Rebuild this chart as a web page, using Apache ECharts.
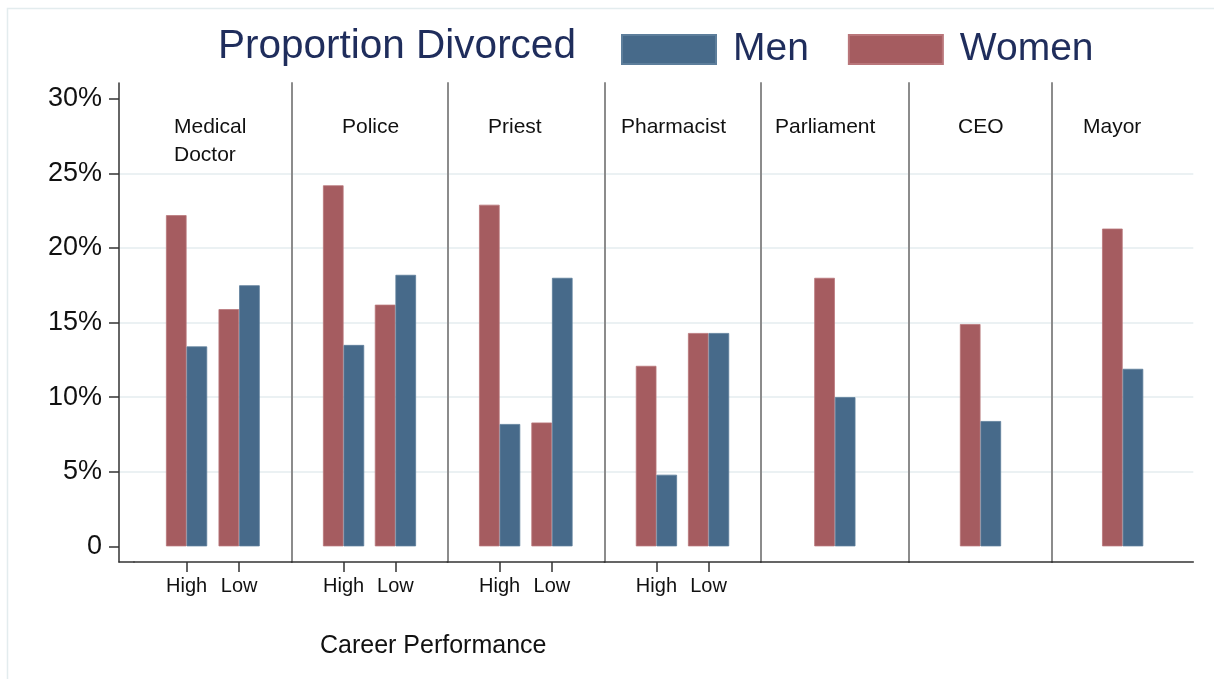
<!DOCTYPE html>
<html>
<head>
<meta charset="utf-8">
<title>Proportion Divorced</title>
<script src="https://cdn.jsdelivr.net/npm/echarts@6/dist/echarts.min.js"></script>
<style>
html, body { margin: 0; padding: 0; background: #fff; }
#chart { width: 1214px; height: 679px; }
</style>
</head>
<body>
<div id="chart"></div>
<script>
const occupations = ['Medical\nDoctor', 'Police', 'Priest', 'Pharmacist', 'Parliament', 'CEO', 'Mayor'];
const performance = ['High', 'Low'];
const womenHigh = [22.2, 24.2, 22.9, 12.1, 18.0, 14.9, 21.3];
const menHigh = [13.4, 13.5, 8.2, 4.8, 10.0, 8.4, 11.9];
// only the first four occupations have a "Low" group
const womenLow = [15.9, 16.2, 8.3, 14.3];
const menLow = [17.5, 18.2, 18.0, 14.3];
const yTicks = [0, 5, 10, 15, 20, 25, 30];

// panel edges (px), first panel starts a bit right of the y axis
const panelEdges = [134, 291.7, 447.3, 604.3, 760.7, 909, 1052, 1193.3];
const labelX = [174, 342, 488, 621, 775, 958, 1083];

const womenColor = '#a55c60';
const menColor = '#476a8a';
const navy = '#1f2d5c';
const font = 'Liberation Sans';
const gridTop = 83, gridHeight = 479;
const yMin = -1.05, yMax = 31.06;

const splitColors = yTicks.map((t, i) =>
  i === 0 || i === yTicks.length - 1 ? 'rgba(0,0,0,0)' : '#e4edef');

let grids = [{ left: 119, width: 15, top: gridTop, height: gridHeight }];
let xAxes = [{
  type: 'value', gridIndex: 0, min: 0, max: 1,
  axisLine: { onZero: false, lineStyle: { color: '#333', width: 1.5 } },
  axisTick: { show: false }, axisLabel: { show: false }, splitLine: { show: false }
}];
let yAxes = [];
let series = [];

function yAxisFor(i) {
  return {
    type: 'value', gridIndex: i, min: yMin, max: yMax,
    axisLine: {
      show: i !== 1, onZero: false,
      lineStyle: i === 0 ? { color: '#333', width: 1.5 } : { color: '#8c8c8c', width: 2 }
    },
    axisTick: { show: i === 0, customValues: yTicks, length: 10, lineStyle: { color: '#333', width: 1.5 } },
    axisLabel: {
      show: i === 0, customValues: yTicks, margin: 17,
      fontSize: 27, color: '#111', fontFamily: font,
      formatter: v => v === 0 ? '0' : v + '%'
    },
    splitLine: { show: true, lineStyle: { color: splitColors, width: 1.5 } }
  };
}
yAxes.push(yAxisFor(0));

occupations.forEach((occ, i) => {
  const g = i + 1;
  const hasLow = i < womenLow.length;
  grids.push({ left: panelEdges[i], width: panelEdges[i + 1] - panelEdges[i], top: gridTop, height: gridHeight });
  xAxes.push({
    type: 'category', gridIndex: g, boundaryGap: false,
    data: hasLow ? [''].concat(performance, [' ']) : ['', '', ' '],
    axisLine: { onZero: false, lineStyle: { color: '#333', width: 1.5 } },
    axisTick: {
      show: hasLow, length: 10,
      interval: idx => idx === 1 || idx === 2,
      lineStyle: { color: '#333', width: 1.5 }
    },
    axisLabel: { show: hasLow, interval: 0, margin: 14, fontSize: 20, color: '#111', fontFamily: font },
    splitLine: { show: false }
  });
  yAxes.push(yAxisFor(g));
  const w = hasLow ? [null, womenHigh[i], womenLow[i], null] : [null, womenHigh[i], null];
  const m = hasLow ? [null, menHigh[i], menLow[i], null] : [null, menHigh[i], null];
  series.push({
    type: 'bar', name: 'Women', xAxisIndex: g, yAxisIndex: g, data: w,
    barWidth: 20.6, barGap: '0%',
    itemStyle: { color: womenColor, borderColor: '#b9767a', borderWidth: 0.8 }
  });
  series.push({
    type: 'bar', name: 'Men', xAxisIndex: g, yAxisIndex: g, data: m,
    barWidth: 20.6, barGap: '0%',
    itemStyle: { color: menColor, borderColor: '#5d7e9b', borderWidth: 0.8 }
  });
});

const panelLabels = occupations.map((occ, i) => ({
  type: 'text', x: labelX[i], y: 113,
  style: { text: occ, lineHeight: 28, fill: '#111', font: '21px "Liberation Sans"', textAlign: 'left', textVerticalAlign: 'top' }
}));

const chart = echarts.init(document.getElementById('chart'));
chart.setOption({
  animation: false,
  backgroundColor: '#fff',
  title: {
    text: 'Proportion Divorced', left: 213, top: 21,
    textStyle: { fontSize: 40.5, fontWeight: 'normal', color: navy, fontFamily: font }
  },
  legend: {
    data: ['Men', 'Women'], left: 616, top: 25,
    icon: 'rect', itemWidth: 94, itemHeight: 29, itemGap: 39, selectedMode: false,
    textStyle: { fontSize: 39, color: navy, fontFamily: font, padding: [0, 0, 8, 12] }
  },
  grid: grids,
  xAxis: xAxes,
  yAxis: yAxes,
  series: series,
  graphic: [
    { type: 'rect', shape: { x: 7.5, y: 8.5, width: 1300, height: 800 }, style: { fill: 'none', stroke: '#e3ecee', lineWidth: 1.5 } },
    {
      type: 'text', x: 320, y: 646,
      style: { text: 'Career Performance', font: '25px "Liberation Sans"', fill: '#111', textVerticalAlign: 'middle' }
    }
  ].concat(panelLabels)
});
</script>
</body>
</html>
